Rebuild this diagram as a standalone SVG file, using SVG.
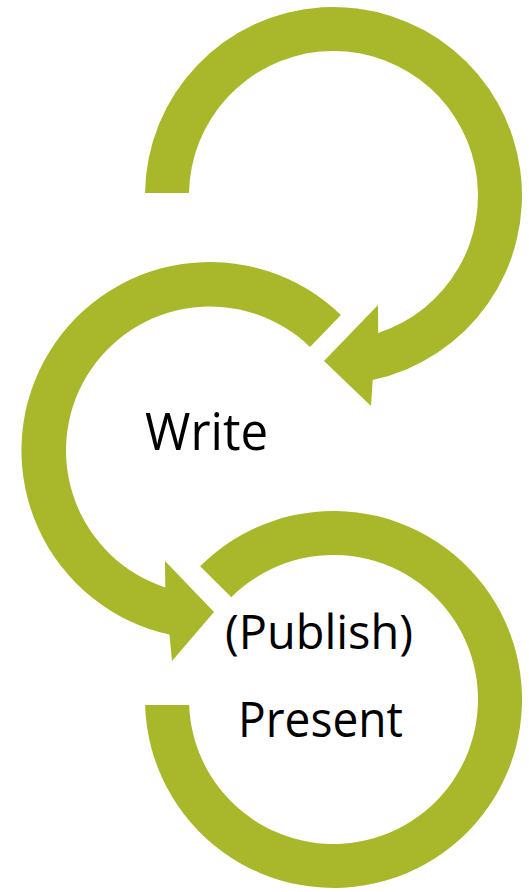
<svg xmlns="http://www.w3.org/2000/svg" width="529" height="892" viewBox="0 0 529 892">
  <style>
    .arc { fill: #a8b82a; stroke: none; }
    .lbl { font-family: "Open Sans", "Noto Sans", "Liberation Sans", sans-serif; fill: #000000; text-anchor: middle; }
  </style>
  <rect x="0" y="0" width="529" height="892" fill="#ffffff"/>
  <g id="connectors">
    <g id="arc-top">
      <path class="arc" d="M 145 193 A 188.5 188.5 0 1 1 372.7 379.9 L 371 406 L 324 361 L 378 305 L 378.2 332.9 A 144.5 144.5 0 1 0 189 193 Z"/>
    </g>
    <g id="arc-middle">
      <path class="arc" d="M 340.9 314.9 A 188.5 188.5 0 1 0 169.5 634.6 L 172 661 L 214 612 L 165 561 L 165.3 587.4 A 144 144 0 1 1 310 346.9 Z"/>
    </g>
    <g id="arc-bottom">
      <path class="arc" d="M 145.1 705 A 188.5 188.5 0 1 0 200.2 566.2 L 231.3 597.3 A 144.5 144.5 0 1 1 189.1 705 Z"/>
    </g>
  </g>
  <g id="node-write">
    <text class="lbl" x="206.5" y="450" font-size="51" textLength="123" lengthAdjust="spacingAndGlyphs">Write</text>
  </g>
  <g id="node-publish-present">
    <text class="lbl" x="319" y="649" font-size="48" textLength="188" lengthAdjust="spacingAndGlyphs">(Publish)</text>
    <text class="lbl" x="320.5" y="737" font-size="49" textLength="165" lengthAdjust="spacingAndGlyphs">Present</text>
  </g>
</svg>
